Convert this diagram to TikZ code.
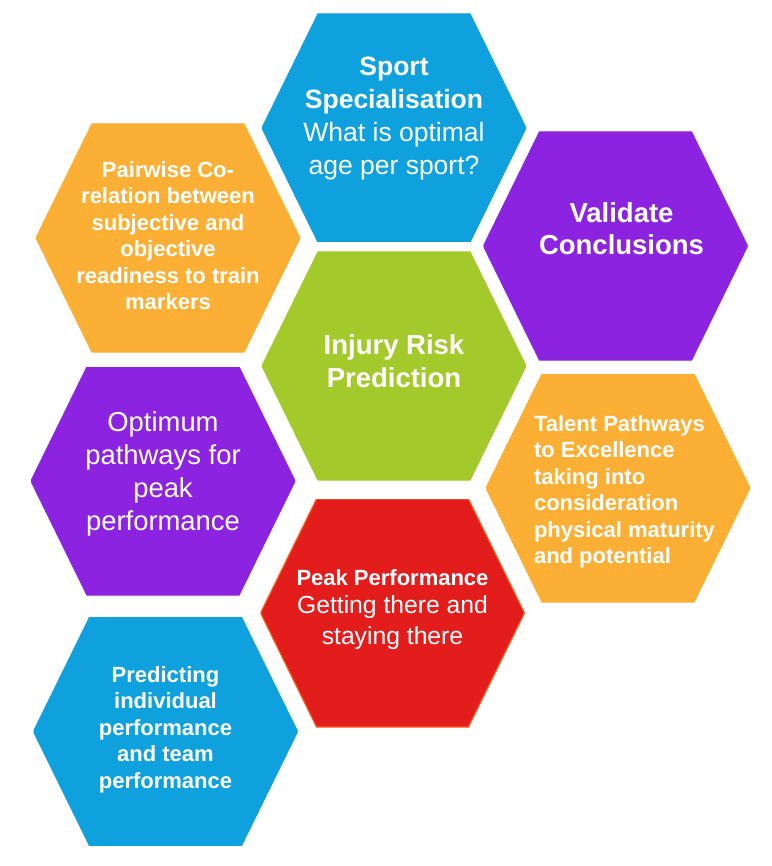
\documentclass[tikz,border=0pt]{standalone}
\usepackage{fontspec}
\setmainfont{Liberation Sans}
\begin{document}
\begin{tikzpicture}[x=1pt, y=-1pt,
  hexa/.style 2 args={minimum width=264pt, minimum height=228pt, inner sep=0pt,
    path picture={\filldraw[fill=#1, draw=#2, line width=1.2pt]
      (path picture bounding box.west)
      -- ([xshift=56pt]path picture bounding box.north west)
      -- ([xshift=-56pt]path picture bounding box.north east)
      -- (path picture bounding box.east)
      -- ([xshift=-56pt]path picture bounding box.south east)
      -- ([xshift=56pt]path picture bounding box.south west) -- cycle;}},
  big/.style={text=white, align=center, inner sep=0pt, font=\fontsize{26.5pt}{33pt}\selectfont},
  small/.style={text=white, align=center, inner sep=0pt, font=\fontsize{22pt}{26.5pt}\selectfont\bfseries}
    ]
    % Colori
    \definecolor{colorBlu}{RGB}{14, 161, 222}
    \definecolor{colorArancio}{RGB}{251, 175, 52}
    \definecolor{colorViola}{RGB}{139, 35, 224}
    \definecolor{colorVerde}{RGB}{164, 201, 42}
    \definecolor{colorRosso}{RGB}{227, 28, 28}
    \definecolor{colorBordo}{RGB}{246, 98, 30}

    \useasboundingbox (0,0) rectangle (771,866);

    % Esagoni
    \node[hexa={colorBlu}{colorBlu}] (sport) at (394,128) {};
    \node[hexa={colorArancio}{colorArancio}] (pairwise) at (168,238) {};
    \node[hexa={colorViola}{colorViola}] (validate) at (615.5,246) {};
    \node[hexa={colorVerde}{colorVerde}] (injury) at (394,366) {};
    \node[hexa={colorViola}{colorViola}] (optimum) at (163,481) {};
    \node[hexa={colorArancio}{colorArancio}] (talent) at (618,488) {};
    \node[hexa={colorRosso}{colorBordo}] (peak) at (392.5,613) {};
    \node[hexa={colorBlu}{colorBlu}] (predict) at (165.5,731.5) {};

    % Testi
    \node[big] (sportTxt) at ([yshift=9.5pt]sport.center)
      {\textbf{Sport}\\\textbf{Specialisation}\\What is optimal\\age per sport?};
    \node[small] (pairwiseTxt) at ([yshift=2.5pt]pairwise.center)
      {Pairwise Co-\\relation between\\subjective and\\objective\\readiness to train\\markers};
    \node[big, font=\fontsize{27.5pt}{32pt}\selectfont\bfseries] (validateTxt)
      at ([xshift=6pt, yshift=17.5pt]validate.center) {Validate\\Conclusions};
    \node[big, font=\fontsize{27.5pt}{33pt}\selectfont\bfseries] (injuryTxt)
      at ([yshift=5pt]injury.center) {Injury Risk\\Prediction};
    \node[big, font=\fontsize{27.4pt}{33pt}\selectfont] (optimumTxt)
      at ([yshift=7.5pt]optimum.center) {Optimum\\pathways for\\peak\\performance};
    \node[small, align=left] (talentTxt) at ([xshift=6.5pt, yshift=-4pt]talent.center)
      {Talent Pathways\\to Excellence\\taking into\\consideration\\physical maturity\\and potential};
    \node[big, font=\fontsize{24.7pt}{30pt}\selectfont] (peakTxt) at ([yshift=3.5pt]peak.center)
      {{\fontsize{22pt}{26pt}\selectfont\bfseries Peak Performance}\\[-2pt]Getting there and\\[1pt]staying there};
    \node[small] (predictTxt) at ([yshift=2pt]predict.center)
      {Predicting\\individual\\performance\\and team\\performance};
\end{tikzpicture}
\end{document}
